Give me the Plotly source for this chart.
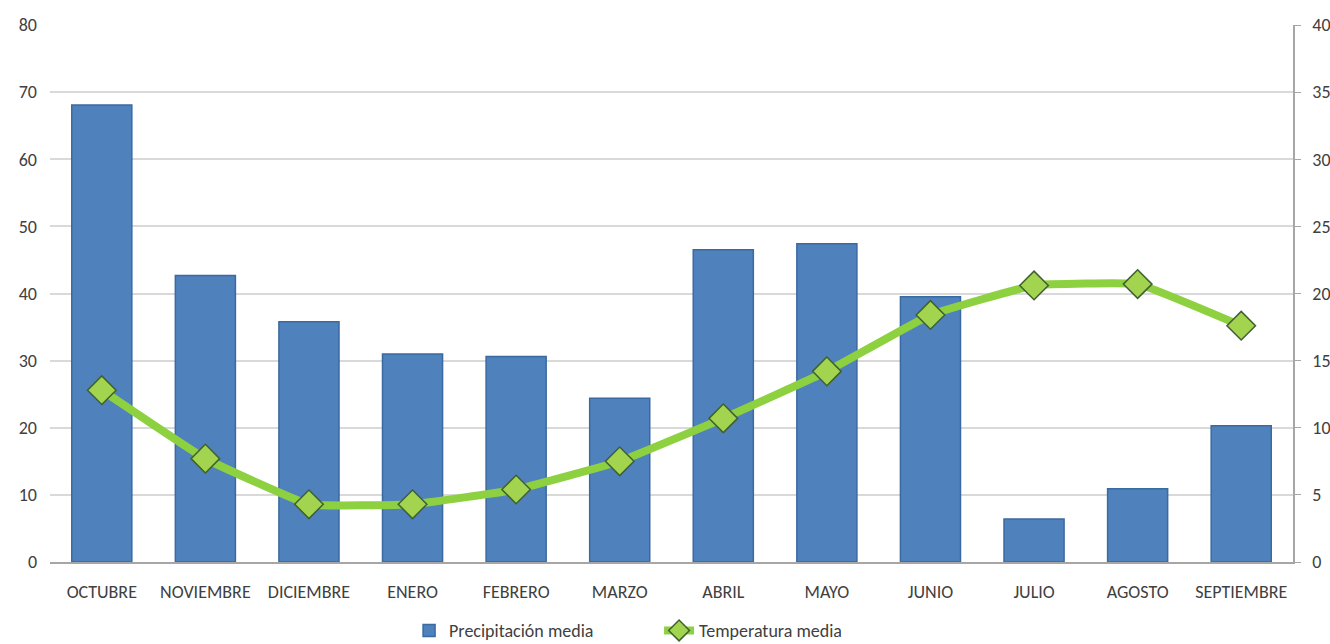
import plotly.graph_objects as go

meses = ["OCTUBRE", "NOVIEMBRE", "DICIEMBRE", "ENERO", "FEBRERO", "MARZO",
         "ABRIL", "MAYO", "JUNIO", "JULIO", "AGOSTO", "SEPTIEMBRE"]
precipitacion = [68.1, 42.7, 35.8, 31.0, 30.6, 24.4, 46.5, 47.4, 39.5, 6.4, 10.9, 20.3]
temperatura = [12.8, 7.7, 4.3, 4.3, 5.4, 7.5, 10.7, 14.2, 18.4, 20.6, 20.7, 17.6]
left_ticks = [0, 10, 20, 30, 40, 50, 60, 70, 80]
right_ticks = [0, 5, 10, 15, 20, 25, 30, 35, 40]

FONT = "Carlito, Lato, sans-serif"

fig = go.Figure()
fig.add_trace(go.Bar(
    x=meses, y=precipitacion, name="Precipitación media",
    marker=dict(color="#4F81BD", line=dict(color="#3B6AA0", width=1.5)),
    yaxis="y",
))
fig.add_trace(go.Scatter(
    x=meses, y=temperatura, name="Temperatura media", yaxis="y2",
    mode="lines+markers",
    line=dict(color="#8DD140", width=8, shape="spline", smoothing=0.3),
    marker=dict(symbol="diamond", size=22, color="#A2D44F",
                line=dict(color="#3F6030", width=1.5)),
))

fig.update_layout(
    width=1330, height=644,
    margin=dict(l=50, r=37, t=25, b=82, autoexpand=False),
    paper_bgcolor="white", plot_bgcolor="white",
    font=dict(family=FONT, size=18, color="#404040"),
    bargap=0.42,
    showlegend=True,
    legend=dict(orientation="h", x=0.49, xanchor="center", y=-0.128, yanchor="middle",
                font=dict(size=18, color="#404040"),
                traceorder="normal", tracegroupgap=0,
                entrywidth=205, entrywidthmode="pixels"),
    xaxis=dict(range=[-0.5, 11.5], showgrid=False, showline=True, linecolor="#A6A6A6",
               linewidth=1.5, ticks="", tickfont=dict(size=18), automargin=False,
               ticklabelstandoff=13),
    yaxis=dict(range=[0, 80], tickvals=left_ticks, showgrid=True,
               gridcolor="#D9D9D9", gridwidth=1.5, zeroline=False, showline=False,
               ticks="", tickfont=dict(size=18), automargin=False,
               ticklabelstandoff=12),
    yaxis2=dict(range=[0, 40], tickvals=right_ticks, overlaying="y", side="right",
                showgrid=False, zeroline=False, showline=True, linecolor="#A6A6A6",
                linewidth=1.5, ticks="outside", ticklen=6, tickcolor="#A6A6A6",
                tickfont=dict(size=18), automargin=False, ticklabelstandoff=8),
)

fig.write_html("out.html")
